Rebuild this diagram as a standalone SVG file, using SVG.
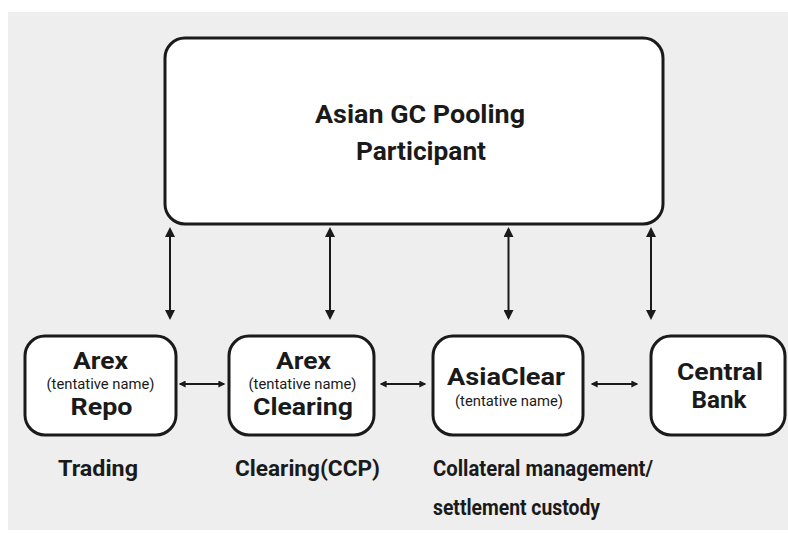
<svg xmlns="http://www.w3.org/2000/svg" width="788" height="534" viewBox="0 0 788 534">
  <defs>
    <style>
      .box { fill: #ffffff; stroke: #1a1a1a; stroke-width: 3; }
      .name { font-family: Roboto, "Liberation Sans", sans-serif; font-weight: 700; fill: #1a1a1a; text-anchor: middle; }
      .sub { font-family: Roboto, "Liberation Sans", sans-serif; font-weight: 400; font-size: 14px; fill: #1a1a1a; text-anchor: middle; }
      .lbl { font-family: Roboto, "Liberation Sans", sans-serif; font-weight: 700; font-size: 22px; fill: #1a1a1a; }
      .conn line { stroke: #1a1a1a; stroke-width: 2; fill: none; }
      .v { marker-start: url(#bigHead); marker-end: url(#bigHead); }
      .h { marker-start: url(#smallHead); marker-end: url(#smallHead); }
    </style>
    <marker id="bigHead" viewBox="0 0 10 10" refX="8" refY="5" markerWidth="10" markerHeight="10" markerUnits="userSpaceOnUse" orient="auto-start-reverse">
      <path d="M0,0 L10,5 L0,10 z" fill="#1a1a1a"/>
    </marker>
    <marker id="smallHead" viewBox="0 0 10 10" refX="8" refY="5" markerWidth="8" markerHeight="7" markerUnits="userSpaceOnUse" orient="auto-start-reverse">
      <path d="M0,0 L10,5 L0,10 z" fill="#1a1a1a"/>
    </marker>
  </defs>

  <rect x="8" y="12" width="780" height="518" fill="#eeeeee"/>

  <g id="participant">
    <rect class="box" x="165" y="38" width="498" height="186" rx="20" ry="20"/>
    <text class="name" x="420" y="123" font-size="26.5" textLength="210" lengthAdjust="spacingAndGlyphs">Asian GC Pooling</text>
    <text class="name" x="421" y="160" font-size="26.5" textLength="130" lengthAdjust="spacingAndGlyphs">Participant</text>
  </g>

  <g id="arex-repo">
    <rect class="box" x="25" y="336" width="151" height="99" rx="20" ry="20"/>
    <text class="name" x="100.5" y="369" font-size="24" textLength="55" lengthAdjust="spacingAndGlyphs">Arex</text>
    <text class="sub" x="100.5" y="388.5" textLength="108" lengthAdjust="spacingAndGlyphs">(tentative name)</text>
    <text class="name" x="101.5" y="415" font-size="24" textLength="62" lengthAdjust="spacingAndGlyphs">Repo</text>
  </g>

  <g id="arex-clearing">
    <rect class="box" x="229" y="336" width="145" height="99" rx="20" ry="20"/>
    <text class="name" x="303.5" y="369" font-size="24" textLength="55" lengthAdjust="spacingAndGlyphs">Arex</text>
    <text class="sub" x="302.5" y="388.5" textLength="108" lengthAdjust="spacingAndGlyphs">(tentative name)</text>
    <text class="name" x="303" y="415" font-size="24" textLength="100" lengthAdjust="spacingAndGlyphs">Clearing</text>
  </g>

  <g id="asiaclear">
    <rect class="box" x="433" y="336" width="150" height="99" rx="20" ry="20"/>
    <text class="name" x="506" y="385" font-size="24" textLength="118" lengthAdjust="spacingAndGlyphs">AsiaClear</text>
    <text class="sub" x="509" y="406" textLength="108" lengthAdjust="spacingAndGlyphs">(tentative name)</text>
  </g>

  <g id="central-bank">
    <rect class="box" x="651" y="336" width="134" height="99" rx="20" ry="20"/>
    <text class="name" x="720" y="380" font-size="24" textLength="86" lengthAdjust="spacingAndGlyphs">Central</text>
    <text class="name" x="719" y="408" font-size="24" textLength="55" lengthAdjust="spacingAndGlyphs">Bank</text>
  </g>

  <g id="connectors" class="conn">
    <line class="v" x1="170" y1="229" x2="170" y2="318"/>
    <line class="v" x1="330" y1="229" x2="330" y2="318"/>
    <line class="v" x1="508.5" y1="229" x2="508.5" y2="318"/>
    <line class="v" x1="651" y1="229" x2="651" y2="318"/>
    <line class="h" x1="180" y1="384" x2="224" y2="384"/>
    <line class="h" x1="381" y1="384" x2="425" y2="384"/>
    <line class="h" x1="592" y1="384" x2="637" y2="384"/>
  </g>

  <g id="labels">
    <text class="lbl" x="58" y="476" textLength="80" lengthAdjust="spacingAndGlyphs">Trading</text>
    <text class="lbl" x="235" y="476" textLength="145" lengthAdjust="spacingAndGlyphs">Clearing(CCP)</text>
    <text class="lbl" x="433" y="476" textLength="220" lengthAdjust="spacingAndGlyphs">Collateral management/</text>
    <text class="lbl" x="433" y="515" textLength="167" lengthAdjust="spacingAndGlyphs">settlement custody</text>
  </g>
</svg>
